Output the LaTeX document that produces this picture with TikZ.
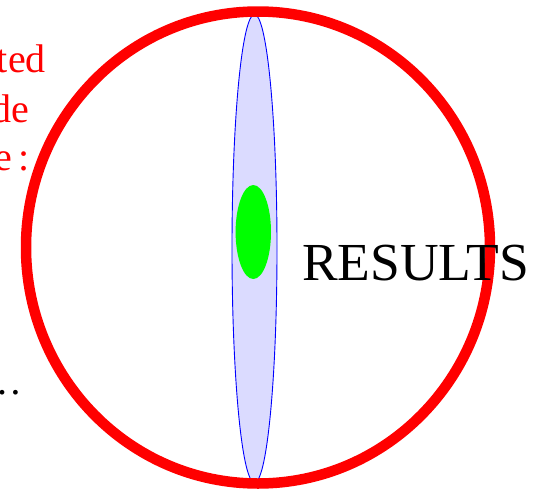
\documentclass[tikz,border=0pt]{standalone}
\usepackage{fontspec}
\setmainfont{Liberation Serif}
\begin{document}
\begin{tikzpicture}[x=1pt,y=-1pt,
  ring/.style={draw=red,line width=10.5pt},
  spindle/.style={draw=blue,fill=blue!14,line width=0.9pt},
  core/.style={fill=green,draw=none},
  redtext/.style={text=red,font=\fontsize{40}{48}\selectfont,inner sep=0pt,anchor=base east},
  bigtext/.style={font=\fontsize{53.5}{60}\selectfont,inner sep=0pt,anchor=base west}]
\useasboundingbox (0,0) rectangle (533,490);
\clip (0,0) rectangle (533,490);
\draw[spindle] (254.5,248.5) ellipse [x radius=22.5, y radius=234];
\fill[core] (253.3,232) ellipse [x radius=17.7, y radius=47];
\draw[ring] (258,247.5) ellipse [x radius=232, y radius=236];
\node[redtext] (l1) at (46,72) {ted};
\node[redtext] (l2) at (29,122) {de};
\node[redtext] (l3) at (30,170.5) {e\,:};
\node[font=\fontsize{40}{48}\selectfont,inner sep=0pt,anchor=base east] (dots) at (22.7,394) {…};
\node[bigtext] (res) at (302,280.5) {RESULTS};
\end{tikzpicture}
\end{document}
